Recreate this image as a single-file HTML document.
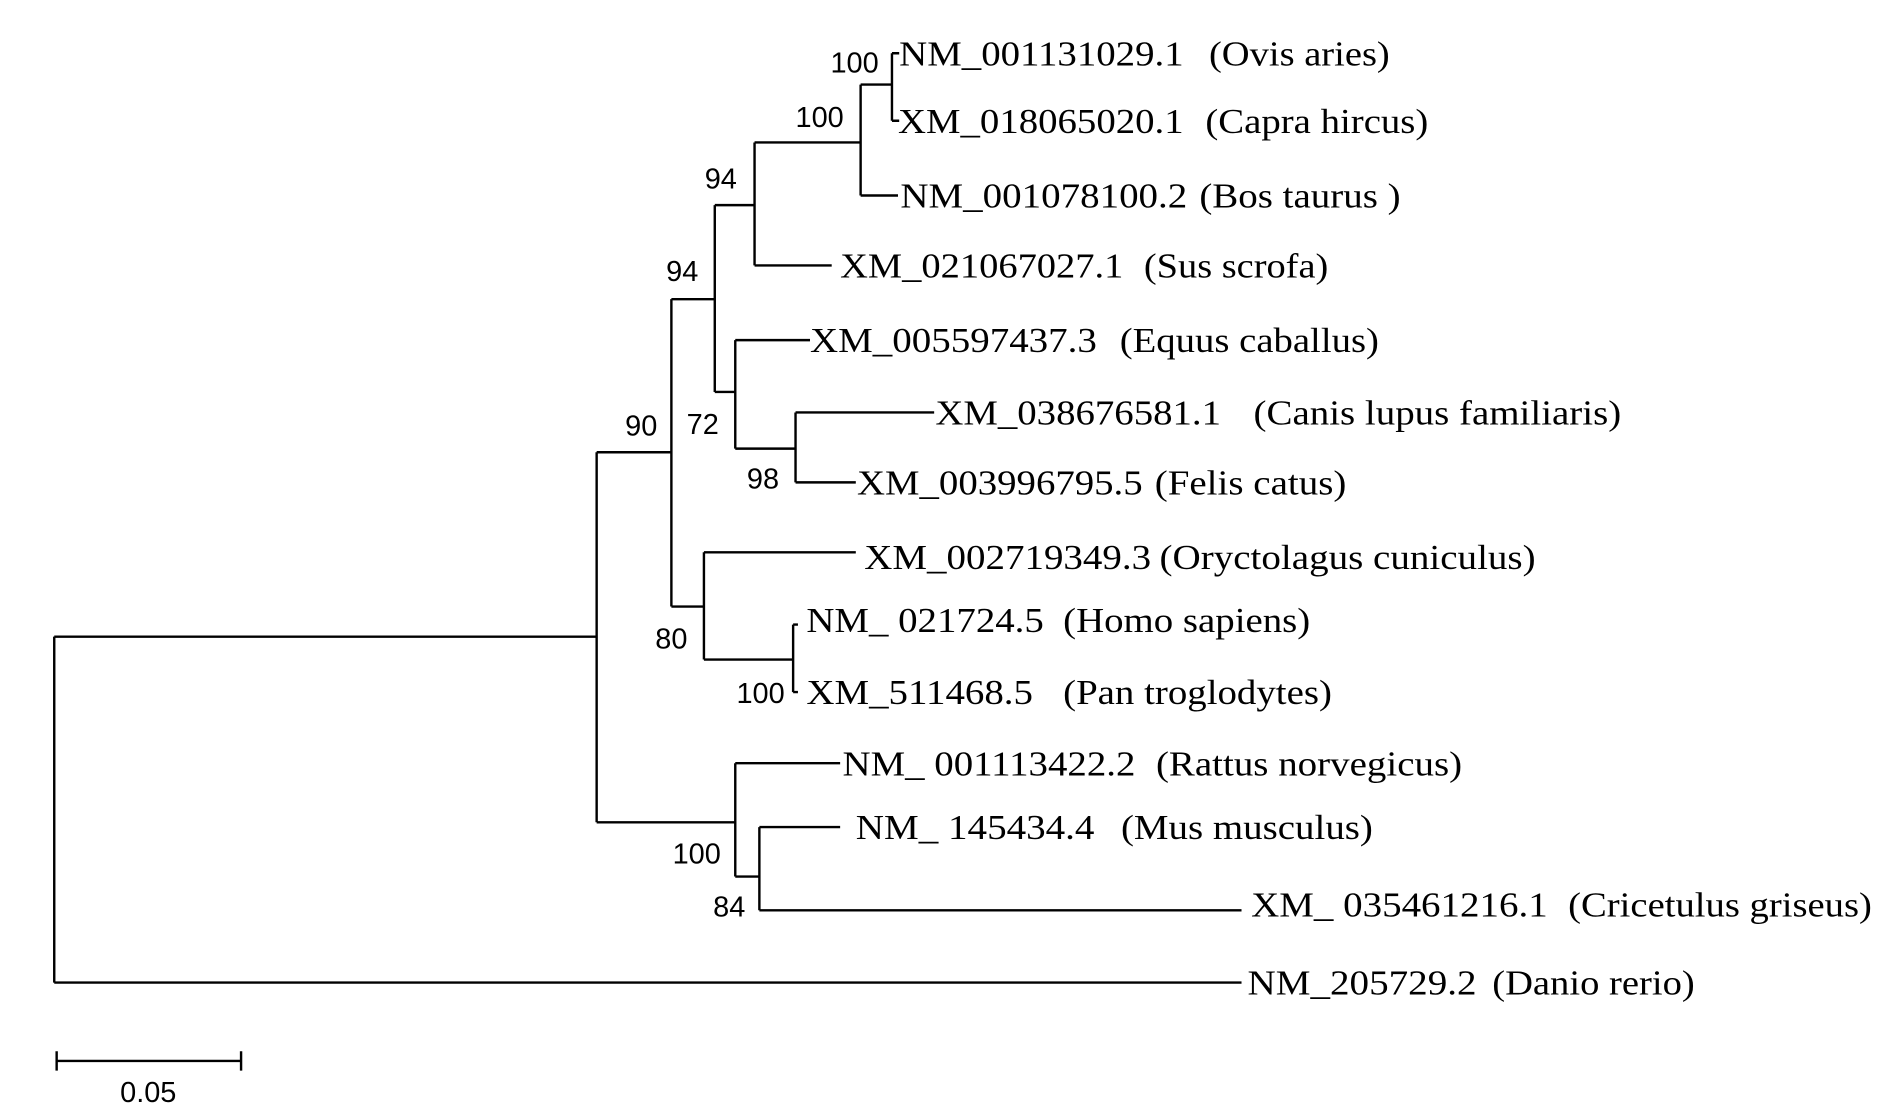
<!DOCTYPE html>
<html><head><meta charset="utf-8"><style>
html,body{margin:0;padding:0;background:#fff;}
svg{display:block;}
.t{font-family:"Liberation Serif",serif;font-size:29px;fill:#000;}
.n{font-family:"Liberation Sans",sans-serif;font-size:24px;fill:#000;text-anchor:middle;}
</style></head><body>
<svg width="1890" height="1113" viewBox="0 0 1568 923" xmlns="http://www.w3.org/2000/svg">
<g stroke="#000" stroke-width="2" fill="none">
<path d="M45 528V815M45 528H495M45 815H1030"/>
<path d="M495 375V682M495 375H557M495 682H610"/>
<path d="M557 248V503M557 248H593M557 503H584"/>
<path d="M593 170V325M593 170H626M593 325H610"/>
<path d="M626 118V220M626 118H714M626 220H690"/>
<path d="M714 70V162M714 70H740M714 162H745"/>
<path d="M740 44V100M740 44H746M740 100H746"/>
<path d="M610 282V372M610 282H672M610 372H660"/>
<path d="M660 342V400M660 342H775M660 400H710"/>
<path d="M584 458V547M584 458H710M584 547H658"/>
<path d="M658 518V574M658 518H662M658 574H662"/>
<path d="M610 633V727M610 633H697M610 727H630"/>
<path d="M630 686V755M630 686H697M630 755H1030"/>
<path d="M47 880H200M47 872V888M200 872V888"/>
</g>
<g class="t">
<text x="746" y="54" textLength="236" lengthAdjust="spacingAndGlyphs">NM_001131029.1</text><text x="1003" y="54" textLength="150" lengthAdjust="spacingAndGlyphs">(Ovis aries)</text>
<text x="745" y="110" textLength="237" lengthAdjust="spacingAndGlyphs">XM_018065020.1</text><text x="1000" y="110" textLength="185" lengthAdjust="spacingAndGlyphs">(Capra hircus)</text>
<text x="747" y="172" textLength="238" lengthAdjust="spacingAndGlyphs">NM_001078100.2</text><text x="995" y="172" textLength="167" lengthAdjust="spacingAndGlyphs">(Bos taurus )</text>
<text x="697" y="230" textLength="235" lengthAdjust="spacingAndGlyphs">XM_021067027.1</text><text x="949" y="230" textLength="153" lengthAdjust="spacingAndGlyphs">(Sus scrofa)</text>
<text x="672" y="292" textLength="238" lengthAdjust="spacingAndGlyphs">XM_005597437.3</text><text x="929" y="292" textLength="215" lengthAdjust="spacingAndGlyphs">(Equus caballus)</text>
<text x="776" y="352" textLength="237" lengthAdjust="spacingAndGlyphs">XM_038676581.1</text><text x="1040" y="352" textLength="305" lengthAdjust="spacingAndGlyphs">(Canis lupus familiaris)</text>
<text x="711" y="410" textLength="237" lengthAdjust="spacingAndGlyphs">XM_003996795.5</text><text x="958" y="410" textLength="159" lengthAdjust="spacingAndGlyphs">(Felis catus)</text>
<text x="717" y="472" textLength="238" lengthAdjust="spacingAndGlyphs">XM_002719349.3</text><text x="962" y="472" textLength="312" lengthAdjust="spacingAndGlyphs">(Oryctolagus cuniculus)</text>
<text x="669" y="524" textLength="197" lengthAdjust="spacingAndGlyphs">NM_ 021724.5</text><text x="882" y="524" textLength="205" lengthAdjust="spacingAndGlyphs">(Homo sapiens)</text>
<text x="669" y="584" textLength="188" lengthAdjust="spacingAndGlyphs">XM_511468.5</text><text x="882" y="584" textLength="223" lengthAdjust="spacingAndGlyphs">(Pan troglodytes)</text>
<text x="699" y="643" textLength="243" lengthAdjust="spacingAndGlyphs">NM_ 001113422.2</text><text x="959" y="643" textLength="254" lengthAdjust="spacingAndGlyphs">(Rattus norvegicus)</text>
<text x="710" y="696" textLength="198" lengthAdjust="spacingAndGlyphs">NM_ 145434.4</text><text x="930" y="696" textLength="209" lengthAdjust="spacingAndGlyphs">(Mus musculus)</text>
<text x="1038" y="760" textLength="246" lengthAdjust="spacingAndGlyphs">XM_ 035461216.1</text><text x="1301" y="760" textLength="252" lengthAdjust="spacingAndGlyphs">(Cricetulus griseus)</text>
<text x="1035" y="825" textLength="190" lengthAdjust="spacingAndGlyphs">NM_205729.2</text><text x="1238" y="825" textLength="168" lengthAdjust="spacingAndGlyphs">(Danio rerio)</text>
</g>
<g class="n">
<text x="709" y="60">100</text>
<text x="680" y="105">100</text>
<text x="598" y="156">94</text>
<text x="566" y="233">94</text>
<text x="532" y="361">90</text>
<text x="583" y="360">72</text>
<text x="633" y="405">98</text>
<text x="557" y="538">80</text>
<text x="631" y="583">100</text>
<text x="578" y="716">100</text>
<text x="605" y="760">84</text>
<text x="123" y="914">0.05</text>
</g>
</svg>
</body></html>
